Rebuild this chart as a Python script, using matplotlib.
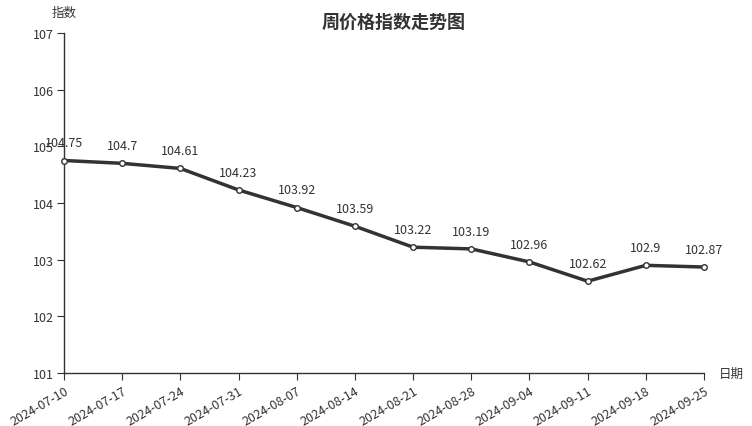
import matplotlib
matplotlib.use("Agg")
import matplotlib.pyplot as plt

plt.rcParams['font.family'] = ['Noto Sans CJK SC', 'DejaVu Sans']

dates = ["2024-07-10", "2024-07-17", "2024-07-24", "2024-07-31", "2024-08-07", "2024-08-14",
         "2024-08-21", "2024-08-28", "2024-09-04", "2024-09-11", "2024-09-18", "2024-09-25"]
values = [104.75, 104.7, 104.61, 104.23, 103.92, 103.59, 103.22, 103.19, 102.96, 102.62, 102.9, 102.87]
yticks = [101, 102, 103, 104, 105, 106, 107]

fig = plt.figure(figsize=(7.52, 4.27), dpi=100)
ax = fig.add_axes([64/752, 1-374/427, 640/752, 340/427])
x = list(range(len(dates)))
ax.plot(x, values, color='#333333', lw=2.5, marker='o', ms=4,
        markerfacecolor='white', markeredgecolor='#333333', markeredgewidth=1, zorder=3, clip_on=False)
for xi, v in zip(x, values):
    ax.annotate(f"{v:g}", (xi, v), xytext=(0, 8), textcoords='offset points',
                ha='center', va='bottom', fontsize=9, color='#333333')
ax.set_xlim(0, len(dates)-1)
ax.set_ylim(101, 107)
ax.set_yticks(yticks)
ax.set_xticks(x)
ax.set_xticklabels(dates, rotation=30, ha='right', rotation_mode='anchor', fontsize=9, color='#333333')
ax.tick_params(axis='y', labelsize=9, labelcolor='#333333', length=5, color='#333333', pad=2)
ax.tick_params(axis='x', length=5, color='#333333', pad=3)
for s in ['top', 'right']:
    ax.spines[s].set_visible(False)
for s in ['left', 'bottom']:
    ax.spines[s].set_color('#333333')
    ax.spines[s].set_linewidth(1)
fig.text(64/752, 1-13/427, "指数", ha='center', va='center', fontsize=9, color='#333333')
fig.text(731/752, 1-374/427, "日期", ha='center', va='center', fontsize=9, color='#333333')
fig.text(394/752, 1-22/427, "周价格指数走势图", ha='center', va='center', fontsize=13,
         fontweight='bold', color='#333333')
fig.savefig("out.png", dpi=100)
